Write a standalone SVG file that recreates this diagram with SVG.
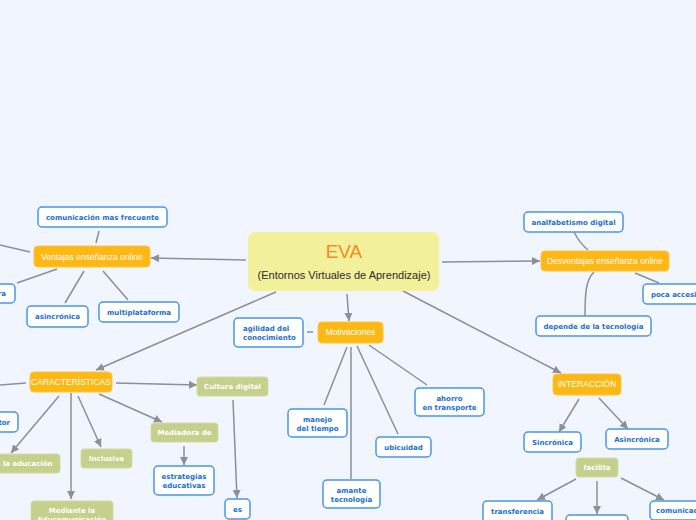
<svg xmlns="http://www.w3.org/2000/svg" width="696" height="520" viewBox="0 0 696 520">
<defs>
<marker id="arr" markerUnits="userSpaceOnUse" markerWidth="9" markerHeight="9" refX="8" refY="4" orient="auto">
<path d="M0,0 L8,4 L0,8 Z" fill="#8b8f97"/>
</marker>
<style>
.bg{fill:#f1f5fd}
.c{fill:none;stroke:#8b8f97;stroke-width:1.5}
.a{marker-end:url(#arr)}
.or{fill:#fdb813;stroke:#fcc544;stroke-width:1}
.gr{fill:#c4d08c;stroke:#d2dba5;stroke-width:1}
.bl{fill:#ffffff;stroke:#4895e8;stroke-width:1.5}
.to{font-family:"Liberation Sans",Arial,sans-serif;font-size:8.5px;fill:#ffffff;text-anchor:middle}
.tg{font-family:"DejaVu Sans",Verdana,sans-serif;font-weight:bold;font-size:7px;fill:#ffffff;text-anchor:middle}
.tb{font-family:"DejaVu Sans",Verdana,sans-serif;font-weight:bold;font-size:7px;fill:#1a6fd2;text-anchor:middle}
</style>
</defs>
<rect class="bg" x="0" y="0" width="696" height="520"/>

<g id="connectors">
<line class="c a" x1="246" y1="260" x2="151" y2="258"/>
<line class="c a" x1="442" y1="262" x2="540" y2="261"/>
<line class="c a" x1="347" y1="294" x2="349" y2="321"/>
<line class="c a" x1="276" y1="292" x2="96" y2="370"/>
<line class="c a" x1="403" y1="291" x2="561" y2="373"/>
<line class="c" x1="0" y1="245" x2="30" y2="252"/>
<line class="c" x1="17" y1="283" x2="57" y2="269"/>
<line class="c" x1="99" y1="231" x2="96" y2="243"/>
<line class="c" x1="84" y1="271" x2="65" y2="303"/>
<line class="c" x1="103" y1="271" x2="128" y2="300"/>
<path class="c" d="M574,232 C578,240 582,245 588,250"/>
<line class="c" x1="635" y1="273" x2="659" y2="283"/>
<path class="c" d="M585,316 C585,292 586,280 594,272"/>
<line class="c" x1="307" y1="332" x2="313" y2="332"/>
<line class="c" x1="347" y1="347" x2="324" y2="405"/>
<line class="c" x1="351" y1="347" x2="351" y2="479"/>
<line class="c" x1="357" y1="346" x2="398" y2="434"/>
<line class="c" x1="369" y1="345" x2="427" y2="385"/>
<line class="c a" x1="579" y1="399" x2="559" y2="432"/>
<line class="c a" x1="599" y1="398" x2="628" y2="429"/>
<line class="c a" x1="576" y1="479" x2="537" y2="500"/>
<line class="c a" x1="597" y1="481" x2="597" y2="514"/>
<line class="c a" x1="621" y1="478" x2="664" y2="500"/>
<line class="c" x1="0" y1="385" x2="26" y2="383"/>
<line class="c a" x1="59" y1="396" x2="11" y2="453"/>
<line class="c a" x1="71" y1="393" x2="71" y2="499"/>
<line class="c a" x1="78" y1="396" x2="101" y2="447"/>
<line class="c a" x1="99" y1="394" x2="162" y2="422"/>
<line class="c a" x1="184" y1="446" x2="184" y2="465"/>
<line class="c a" x1="116" y1="383" x2="197" y2="385"/>
<line class="c a" x1="233" y1="400" x2="237" y2="498"/>
</g>

<g id="eva">
<rect x="248" y="232" width="191" height="59" rx="7" fill="#f3f09b"/>
<text x="344" y="258" font-family="Liberation Sans, Arial, sans-serif" font-size="19" fill="#f68b1f" text-anchor="middle">EVA</text>
<text x="344" y="279" font-family="Liberation Sans, Arial, sans-serif" font-size="11" fill="#2b2b2b" text-anchor="middle">(Entornos Virtuales de Aprendizaje)</text>
</g>

<g id="ventajas"><rect class="or" x="34" y="246" width="116" height="21" rx="4"/><text class="to" x="92" y="260">Ventajas enseñanza online</text></g>
<g id="comunicacion"><rect class="bl" x="38" y="207" width="129" height="20" rx="4"/><text class="tb" x="102.5" y="220">comunicación mas frecuente</text></g>
<g id="ventaja-izq"><rect class="bl" x="-50" y="284" width="65" height="19" rx="4"/><text class="tb" x="6" y="296" text-anchor="end" style="text-anchor:end">ra</text></g>
<g id="asincronica1"><rect class="bl" x="27" y="306" width="61" height="21" rx="4"/><text class="tb" x="57.5" y="319">asincrónica</text></g>
<g id="multiplataforma"><rect class="bl" x="99" y="302" width="80" height="20" rx="4"/><text class="tb" x="139" y="315">multiplataforma</text></g>

<g id="desventajas"><rect class="or" x="541" y="251" width="128" height="20" rx="4"/><text class="to" x="605" y="264">Desventajas enseñanza online</text></g>
<g id="analfabetismo"><rect class="bl" x="524" y="212" width="99" height="20" rx="4"/><text class="tb" x="573.5" y="225">analfabetismo digital</text></g>
<g id="poca"><rect class="bl" x="643" y="284" width="80" height="20" rx="4"/><text class="tb" x="651" y="297" style="text-anchor:start">poca accesi</text></g>
<g id="depende"><rect class="bl" x="536" y="316" width="115" height="20" rx="4"/><text class="tb" x="593.5" y="329">depende de la tecnología</text></g>

<g id="motivaciones"><rect class="or" x="318" y="322" width="65" height="21" rx="4"/><text class="to" x="350.5" y="335">Motivaciones</text></g>
<g id="agilidad"><rect class="bl" x="234" y="318" width="69" height="29" rx="4"/><text class="tb" style="text-anchor:start" x="243"><tspan x="243" y="331">agilidad del</tspan><tspan x="243" y="340">conocimiento</tspan></text></g>
<g id="manejo"><rect class="bl" x="288" y="409" width="59" height="28" rx="4"/><text class="tb" x="317.5"><tspan x="317.5" y="422">manejo</tspan><tspan x="317.5" y="430.5">del tiempo</tspan></text></g>
<g id="amante"><rect class="bl" x="323" y="480" width="57" height="28" rx="4"/><text class="tb" x="351.5"><tspan x="351.5" y="493">amante</tspan><tspan x="351.5" y="501.5">tecnología</tspan></text></g>
<g id="ubicuidad"><rect class="bl" x="376" y="437" width="55" height="20" rx="4"/><text class="tb" x="403.5" y="450">ubicuidad</text></g>
<g id="ahorro"><rect class="bl" x="415" y="388" width="69" height="28" rx="4"/><text class="tb" x="449.5"><tspan x="449.5" y="401">ahorro</tspan><tspan x="449.5" y="409.5">en transporte</tspan></text></g>

<g id="interaccion"><rect class="or" x="553" y="374" width="68" height="21" rx="4"/><text class="to" x="587" y="387">INTERACCIÓN</text></g>
<g id="sincronica"><rect class="bl" x="524" y="432" width="57" height="20" rx="4"/><text class="tb" x="552.5" y="445">Sincrónica</text></g>
<g id="asincronica2"><rect class="bl" x="606" y="429" width="62" height="20" rx="4"/><text class="tb" x="637" y="442">Asincrónica</text></g>
<g id="facilita"><rect class="gr" x="576" y="458" width="42" height="19" rx="3"/><text class="tg" x="597" y="470">facilita</text></g>
<g id="transferencia"><rect class="bl" x="483" y="501" width="69" height="24" rx="4"/><text class="tb" x="517.5" y="514">transferencia</text></g>
<g id="facilita-medio"><rect class="bl" x="566" y="515" width="62" height="20" rx="4"/></g>
<g id="comunicac"><rect class="bl" x="650" y="501" width="80" height="19" rx="4"/><text class="tb" x="656" y="513" style="text-anchor:start">comunicac</text></g>

<g id="caracteristicas"><rect class="or" x="30" y="372" width="82" height="20" rx="4"/><text class="to" x="71" y="385">CARACTERÍSTICAS</text></g>
<g id="tor"><rect class="bl" x="-40" y="412" width="58" height="20" rx="4"/><text class="tb" x="10" y="425" style="text-anchor:end">tor</text></g>
<g id="educacion"><rect class="gr" x="-40" y="454" width="100" height="19" rx="3"/><text class="tg" x="52.5" y="466" style="text-anchor:end">la educación</text></g>
<g id="mediante"><rect class="gr" x="31" y="501" width="82" height="30" rx="3"/><text class="tg" x="72"><tspan x="72" y="513">Mediante la</tspan><tspan x="72" y="522">Educomunicación</tspan></text></g>
<g id="inclusiva"><rect class="gr" x="81" y="449" width="51" height="19" rx="3"/><text class="tg" x="106.5" y="461">Inclusiva</text></g>
<g id="mediadora"><rect class="gr" x="151" y="423" width="67" height="19" rx="3"/><text class="tg" x="184.5" y="435">Mediadora de</text></g>
<g id="estrategias"><rect class="bl" x="154" y="466" width="60" height="29" rx="4"/><text class="tb" x="184"><tspan x="184" y="479">estrategias</tspan><tspan x="184" y="487.5">educativas</tspan></text></g>
<g id="cultura"><rect class="gr" x="197" y="377" width="71" height="19" rx="3"/><text class="tg" x="232.5" y="389">Cultura digital</text></g>
<g id="es"><rect class="bl" x="225" y="499" width="25" height="20" rx="4"/><text class="tb" x="237.5" y="512">es</text></g>
</svg>
